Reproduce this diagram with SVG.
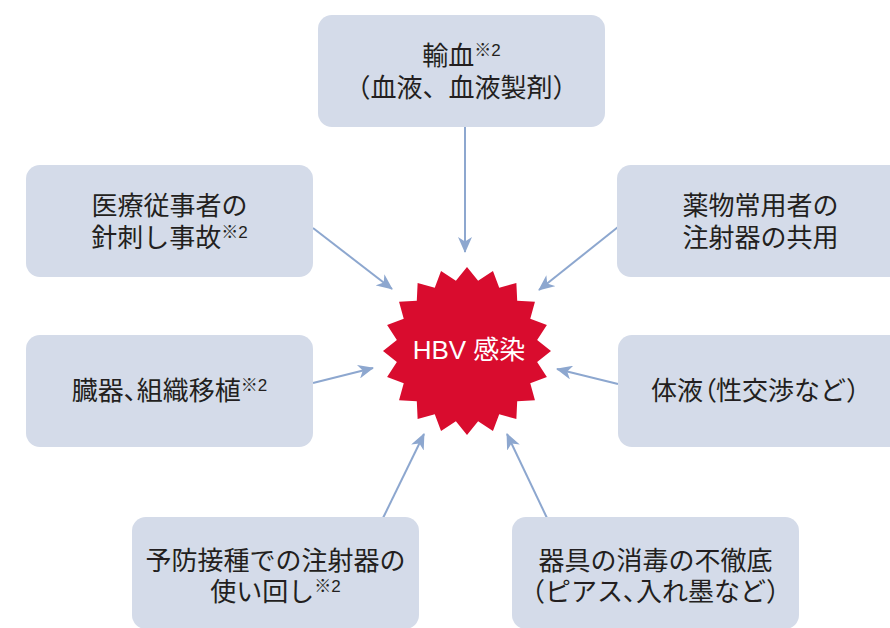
<svg xmlns="http://www.w3.org/2000/svg" width="890" height="628" viewBox="0 0 890 628">
  <style>
    .box { fill: #d4dbe9; }
    .t { font-family: "Liberation Sans", "Noto Sans CJK JP", sans-serif; font-size: 26px; fill: #231f20; text-anchor: middle; }
    .sup { font-size: 17px; }
    .p { font-feature-settings: "palt"; }
    .conn { stroke: #8da7cf; stroke-width: 2; fill: none; marker-end: url(#ah); }
    .burst { fill: #d90c2e; }
    .ct { font-family: "Liberation Sans", "Noto Sans CJK JP", sans-serif; font-size: 26px; fill: #ffffff; text-anchor: middle; }
  </style>
  <defs>
    <marker id="ah" viewBox="0 0 16 14" refX="15" refY="7" markerWidth="16" markerHeight="14" markerUnits="userSpaceOnUse" orient="auto">
      <path d="M0,0 L16,7 L0,14 L4.5,7 Z" fill="#8da7cf"/>
    </marker>
  </defs>
  <rect width="890" height="628" fill="#ffffff"/>

  <g id="connectors">
    <line class="conn" x1="465" y1="127" x2="465" y2="252"/>
    <line class="conn" x1="313" y1="228" x2="392" y2="289"/>
    <line class="conn" x1="618" y1="227" x2="539" y2="290"/>
    <line class="conn" x1="313" y1="383" x2="373" y2="368"/>
    <line class="conn" x1="618" y1="384" x2="557" y2="369"/>
    <line class="conn" x1="383" y1="518" x2="424" y2="434"/>
    <line class="conn" x1="547" y1="518" x2="507" y2="434"/>
  </g>

  <g id="hbv">
    <polygon class="burst" points="467,267 478.11,280.87 492.96,271.11 499.23,287.74 516.37,283.04 517.2,300.8 534.96,301.63 530.26,318.77 546.89,325.04 537.13,339.89 551,351 537.13,362.11 546.89,376.96 530.26,383.23 534.96,400.37 517.2,401.2 516.37,418.96 499.23,414.26 492.96,430.89 478.11,421.13 467,435 455.89,421.13 441.04,430.89 434.77,414.26 417.63,418.96 416.8,401.2 399.04,400.37 403.74,383.23 387.11,376.96 396.87,362.11 383,351 396.87,339.89 387.11,325.04 403.74,318.77 399.04,301.63 416.8,300.8 417.63,283.04 434.77,287.74 441.04,271.11 455.89,280.87"/>
    <text class="ct" x="469" y="359">HBV 感染</text>
  </g>

  <g id="transfusion">
    <rect class="box" x="318" y="15" width="287" height="112" rx="14"/>
    <text class="t" x="461.5" y="65">輸血<tspan class="sup" dy="-9">※2</tspan></text>
    <text class="t" x="461.5" y="97">（血液、血液製剤）</text>
  </g>

  <g id="needlestick">
    <rect class="box" x="26" y="165" width="287" height="112" rx="14"/>
    <text class="t" x="169.5" y="215">医療従事者の</text>
    <text class="t" x="169.5" y="247">針刺し事故<tspan class="sup" dy="-9">※2</tspan></text>
  </g>

  <g id="drugs">
    <rect class="box" x="617" y="165" width="287" height="112" rx="14"/>
    <text class="t" x="760.5" y="215">薬物常用者の</text>
    <text class="t" x="760.5" y="247">注射器の共用</text>
  </g>

  <g id="transplant">
    <rect class="box" x="26" y="335" width="287" height="112" rx="14"/>
    <text class="t" x="169.5" y="400">臓器<tspan class="p">、</tspan>組織移植<tspan class="sup" dy="-9">※2</tspan></text>
  </g>

  <g id="bodyfluid">
    <rect class="box" x="618" y="335" width="287" height="112" rx="14"/>
    <text class="t" x="761.5" y="400">体液<tspan class="p">（</tspan>性交渉など）</text>
  </g>

  <g id="vaccination">
    <rect class="box" x="132" y="517" width="287" height="112" rx="14"/>
    <text class="t" x="275.5" y="570">予防接種での注射器の</text>
    <text class="t" x="275.5" y="601">使い回し<tspan class="sup" dy="-9">※2</tspan></text>
  </g>

  <g id="disinfection">
    <rect class="box" x="512" y="517" width="287" height="112" rx="14"/>
    <text class="t" x="655.5" y="570">器具の消毒の不徹底</text>
    <text class="t" x="655.5" y="601">（ピアス<tspan class="p">、</tspan>入れ墨など）</text>
  </g>
</svg>
